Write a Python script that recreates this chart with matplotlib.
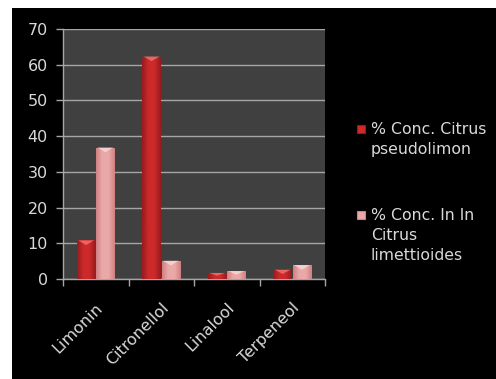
import numpy as np
import matplotlib
matplotlib.use("Agg")
import matplotlib.pyplot as plt
from matplotlib.patches import Rectangle, Polygon
from matplotlib.colors import LinearSegmentedColormap
from matplotlib.transforms import ScaledTranslation

# Concentrazioni (%) dei componenti principali
componenti = ["Limonin", "Citronellol", "Linalool", "Terpeneol"]
conc_pseudolimon = [10.8, 62.3, 1.7, 2.6]
conc_limettioides = [36.8, 5.1, 2.2, 3.9]
serie = ["% Conc. Citrus\npseudolimon", "% Conc. In In\nCitrus\nlimettioides"]
yticks = [0, 10, 20, 30, 40, 50, 60, 70]

testo = "#d9d9d9"
griglia = "#a6a6a6"

# colori: bordo, centro, riflesso in cima
rosso = ("#961a1c", "#cc2a2b", "#ef6f70")
rosa = ("#cf8080", "#eaa9a9", "#f8d6d6")


def barra_sfumata(ax, rect, colori):
    bordo, centro, luce = colori
    cmap = LinearSegmentedColormap.from_list("b", [bordo, centro, centro, bordo])
    x0, y0 = rect.get_x(), rect.get_y()
    w, h = rect.get_width(), rect.get_height()
    grad = np.linspace(0, 1, 64).reshape(1, -1)
    im = ax.imshow(grad, cmap=cmap, extent=(x0, x0 + w, y0, y0 + h),
                   aspect="auto", zorder=3, interpolation="bicubic")
    im.set_clip_path(rect)
    # piccolo smusso luminoso in cima alla barra
    d = min(1.3, h * 0.45)
    ax.add_patch(Polygon([(x0 + w * 0.08, y0 + h), (x0 + w * 0.92, y0 + h),
                          (x0 + w * 0.5, y0 + h - d)],
                         closed=True, facecolor=luce, edgecolor="none",
                         alpha=0.85, zorder=4))


fig = plt.figure(figsize=(4.96, 3.79), dpi=100, facecolor="white")
fig.patches.append(Rectangle((12 / 496, 0), 1, 1 - 8 / 379,
                             transform=fig.transFigure, facecolor="black",
                             edgecolor="none", zorder=-10))

ax = fig.add_axes([63 / 496, 100 / 379, 262 / 496, 250 / 379])
ax.set_facecolor("#404040")

x = np.arange(len(componenti))
larg = 0.285
b1 = ax.bar(x - 0.147, conc_pseudolimon, larg, color=rosso[1], zorder=2)
b2 = ax.bar(x + 0.147, conc_limettioides, larg, color=rosa[1], zorder=2)
for r in b1:
    barra_sfumata(ax, r, rosso)
for r in b2:
    barra_sfumata(ax, r, rosa)

ax.set_xlim(-0.5, len(componenti) - 0.5)
ax.set_ylim(0, 70)
ax.set_yticks(yticks)
ax.yaxis.grid(True, color=griglia, linewidth=1)
ax.set_axisbelow(True)

ax.set_xticks(x)
ax.set_xticklabels(componenti, rotation=45, ha="right", va="center",
                   rotation_mode="anchor", color=testo, fontsize=11.5)
ax.set_xticks(np.arange(len(componenti) + 1) - 0.5, minor=True)
ax.tick_params(axis="x", which="major", length=0, pad=19)
ax.tick_params(axis="x", which="minor", length=5, color=griglia, width=1)
ax.tick_params(axis="y", length=5, color=griglia, labelcolor=testo,
               labelsize=11.5, pad=6, width=1)
sposta = ScaledTranslation(0.05, 0, fig.dpi_scale_trans)
for lbl in ax.get_xticklabels():
    lbl.set_transform(lbl.get_transform() + sposta)

for lato in ("top", "right"):
    ax.spines[lato].set_visible(False)
for lato in ("left", "bottom"):
    ax.spines[lato].set_color(griglia)
    ax.spines[lato].set_linewidth(1)

# legenda a destra
for (yc, colori, etichetta) in [(129, rosso, serie[0]), (215, rosa, serie[1])]:
    fig.patches.append(Rectangle((357 / 496, 1 - (yc + 4) / 379), 8 / 496, 8 / 379,
                                 transform=fig.transFigure, facecolor=colori[1],
                                 edgecolor=colori[0], linewidth=0.8))
    fig.text(371 / 496, 1 - (yc - 7) / 379, etichetta, color=testo, fontsize=11.3,
             ha="left", va="top", linespacing=1.4)

fig.savefig("out.png", dpi=100, facecolor=fig.get_facecolor())
